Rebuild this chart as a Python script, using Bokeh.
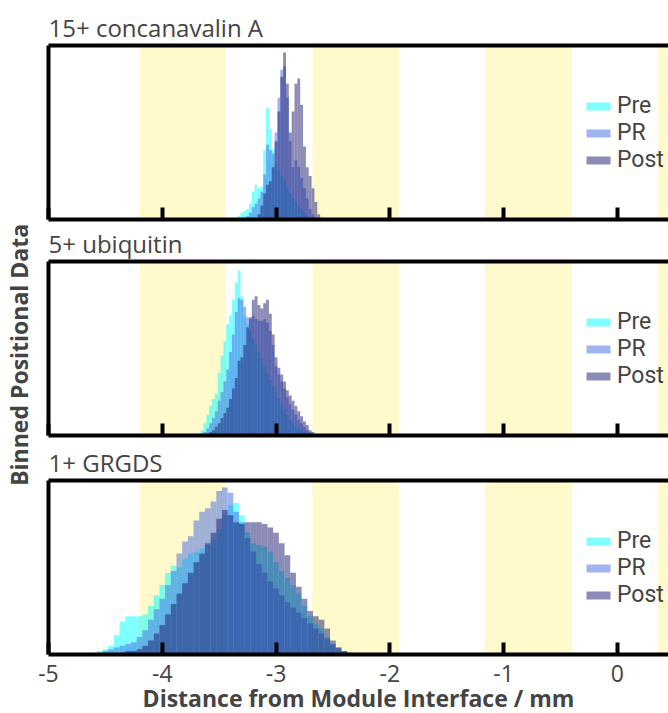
import numpy as np
from bokeh.plotting import figure
from bokeh.models import Range1d, LinearAxis, FixedTicker, Label, Legend, LegendItem
from bokeh.layouts import row, column
from bokeh.embed import file_html
from bokeh.resources import INLINE

# ---------------- data ----------------
tick_values = [-5, -4, -3, -2, -1, 0]
tick_labels = ["-5", "-4", "-3", "-2", "-1", "0"]
band_left = [-4.20, -2.68, -1.16, 0.36]
band_right = [-3.44, -1.92, -0.40, 1.12]
series_names = ["Pre", "PR", "Post"]
panel_titles = ["15+ concanavalin A", "5+ ubiquitin", "1+ GRGDS"]

# 15+ concanavalin A : bins of 0.025 mm, first bin centre -3.325
conA_first, conA_step = -3.325, 0.025
conA_pre = [0.02, 0.04, 0.05, 0.06, 0.09, 0.16, 0.20, 0.18, 0.19, 0.40,
            0.64, 0.52, 0.40, 0.32, 0.28, 0.25, 0.22, 0.18, 0.15, 0.12,
            0.10, 0.08, 0.06, 0.04, 0.02, 0.01, 0.00, 0.00, 0.00, 0.00]
conA_pr = [0.00, 0.00, 0.01, 0.02, 0.04, 0.07, 0.09, 0.12, 0.16, 0.26,
           0.43, 0.40, 0.38, 0.50, 0.70, 0.86, 0.88, 0.70, 0.45, 0.30,
           0.34, 0.30, 0.24, 0.18, 0.12, 0.06, 0.03, 0.01, 0.00, 0.00]
conA_post = [0.00, 0.00, 0.00, 0.00, 0.00, 0.00, 0.01, 0.03, 0.08, 0.15,
             0.20, 0.22, 0.30, 0.45, 0.62, 0.82, 0.96, 0.78, 0.50, 0.62,
             0.78, 0.81, 0.66, 0.42, 0.30, 0.25, 0.18, 0.10, 0.03, 0.01]

# 5+ ubiquitin : bins of 0.025 mm, first bin centre -3.675
ubq_first, ubq_step = -3.675, 0.025
ubq_pre = [0.01, 0.03, 0.07, 0.12, 0.17, 0.21, 0.24, 0.36, 0.46, 0.54,
           0.64, 0.69, 0.78, 0.88, 0.95, 0.80, 0.69, 0.64, 0.60, 0.56,
           0.52, 0.48, 0.44, 0.40, 0.36, 0.32, 0.28, 0.25, 0.21, 0.18,
           0.15, 0.12, 0.09, 0.07, 0.05, 0.04, 0.03, 0.02, 0.01, 0.00,
           0.00, 0.00]
ubq_pr = [0.00, 0.01, 0.02, 0.04, 0.07, 0.10, 0.14, 0.20, 0.25, 0.31,
          0.38, 0.48, 0.58, 0.71, 0.79, 0.78, 0.74, 0.68, 0.67, 0.69,
          0.67, 0.66, 0.66, 0.67, 0.65, 0.60, 0.52, 0.40, 0.35, 0.31,
          0.27, 0.22, 0.18, 0.15, 0.12, 0.09, 0.07, 0.05, 0.03, 0.02,
          0.01, 0.00]
ubq_post = [0.00, 0.00, 0.01, 0.01, 0.02, 0.03, 0.05, 0.07, 0.10, 0.13,
            0.16, 0.21, 0.27, 0.33, 0.43, 0.45, 0.52, 0.62, 0.68, 0.78,
            0.80, 0.75, 0.73, 0.76, 0.78, 0.70, 0.58, 0.45, 0.39, 0.35,
            0.31, 0.26, 0.23, 0.20, 0.17, 0.14, 0.11, 0.08, 0.06, 0.03,
            0.02, 0.01]

# 1+ GRGDS : bins of 0.05 mm, first bin centre -4.60
grgds_first, grgds_step = -4.60, 0.05
grgds_pre = [0.01, 0.02, 0.03, 0.05, 0.11, 0.19, 0.22, 0.22, 0.22, 0.23,
             0.28, 0.34, 0.40, 0.47, 0.51, 0.50, 0.55, 0.58, 0.59, 0.61,
             0.63, 0.66, 0.72, 0.80, 0.86, 0.87, 0.80, 0.70, 0.64, 0.63,
             0.62, 0.59, 0.53, 0.48, 0.44, 0.40, 0.35, 0.28, 0.22, 0.18,
             0.15, 0.10, 0.06, 0.03, 0.01, 0.00, 0.00]
grgds_pr = [0.00, 0.01, 0.02, 0.03, 0.04, 0.05, 0.06, 0.07, 0.10, 0.14,
            0.20, 0.26, 0.32, 0.40, 0.48, 0.58, 0.65, 0.68, 0.77, 0.82,
            0.84, 0.88, 0.94, 0.96, 0.93, 0.82, 0.76, 0.67, 0.59, 0.52,
            0.47, 0.42, 0.38, 0.34, 0.30, 0.27, 0.24, 0.21, 0.18, 0.15,
            0.12, 0.09, 0.06, 0.04, 0.02, 0.01, 0.00]
grgds_post = [0.00, 0.00, 0.00, 0.01, 0.01, 0.01, 0.02, 0.02, 0.03, 0.05,
              0.08, 0.12, 0.17, 0.23, 0.29, 0.35, 0.41, 0.47, 0.53, 0.58,
              0.64, 0.70, 0.78, 0.83, 0.80, 0.76, 0.75, 0.76, 0.76, 0.76,
              0.75, 0.73, 0.70, 0.64, 0.57, 0.47, 0.39, 0.32, 0.25, 0.22,
              0.20, 0.15, 0.08, 0.04, 0.02, 0.01, 0.00]

series_colors = ["#00FFFF", "#4169E1", "#191970"]
band_color = "#FFF9CC"
FONT = "Open Sans"
LEGEND_FONT = "Roboto"
legend_offsets = [100, 73, 46]   # screen px from frame bottom, one per legend row


def bin_centres(first, step, n):
    return np.round(first + step * np.arange(n), 4)


def hide_grids(p):
    p.xgrid.grid_line_color = None
    p.ygrid.grid_line_color = None
    p.xgrid.visible = False
    p.ygrid.visible = False


def make_panel(title, first, step, pre, pr, post, top_border, bottom_border, last):
    p = figure(frame_width=620, frame_height=174,
               x_range=Range1d(-5, 0.45), y_range=Range1d(0, 1),
               output_backend="svg", toolbar_location=None,
               x_axis_location=None, y_axis_location=None,
               min_border_left=14, min_border_right=0,
               min_border_top=top_border, min_border_bottom=bottom_border,
               title=title)
    hide_grids(p)
    p.outline_line_color = None
    p.background_fill_color = "white"
    p.border_fill_color = "white"
    p.title.text_font = FONT
    p.title.text_font_size = "24px"
    p.title.text_font_style = "normal"
    p.title.align = "left"
    p.title.offset = 0
    p.title.standoff = 4

    p.quad(left=band_left, right=band_right, bottom=0, top=1,
           fill_color=band_color, line_color=None)

    xs = bin_centres(first, step, len(pre))
    for name, vals, col, off in zip(series_names, [pre, pr, post], series_colors, legend_offsets):
        r = p.vbar(x=xs, width=step, top=vals, bottom=0,
                   fill_color=col, fill_alpha=0.5, line_color=None)
        leg = Legend(items=[LegendItem(label=name, renderers=[r])],
                     location=(535, off), glyph_width=30, glyph_height=10,
                     label_text_font=LEGEND_FONT, label_text_font_size="23px",
                     background_fill_alpha=0, border_line_color=None,
                     padding=0, margin=0, spacing=0, label_standoff=4,
                     label_height=20)
        p.add_layout(leg)

    xa = LinearAxis(ticker=FixedTicker(ticks=tick_values),
                    major_label_overrides=dict(zip(tick_values, tick_labels)))
    xa.axis_line_width = 4
    xa.major_tick_in = 12
    xa.major_tick_out = 0
    xa.major_tick_line_width = 4
    xa.minor_tick_line_color = None
    if last:
        xa.major_label_text_font = FONT
        xa.major_label_text_font_size = "23px"
        xa.major_label_standoff = 10
        xa.axis_label = "Distance from Module Interface / mm"
        xa.axis_label_text_font = FONT
        xa.axis_label_text_font_style = "bold"
        xa.axis_label_text_font_size = "23px"
        xa.axis_label_standoff = -3
    else:
        xa.major_label_text_font_size = "0px"
        xa.major_label_text_color = None
        xa.major_label_standoff = 0
    p.add_layout(xa, "below")

    for side in ["above", "left"]:
        ax = LinearAxis(ticker=FixedTicker(ticks=[]))
        ax.axis_line_width = 4
        ax.major_tick_line_color = None
        ax.minor_tick_line_color = None
        ax.major_label_text_font_size = "0px"
        ax.major_label_text_color = None
        ax.major_label_standoff = 0
        p.add_layout(ax, side)
    return p


f1 = make_panel(panel_titles[0], conA_first, conA_step, conA_pre, conA_pr, conA_post, 45, 3, False)
f2 = make_panel(panel_titles[1], ubq_first, ubq_step, ubq_pre, ubq_pr, ubq_post, 39, 3, False)
f3 = make_panel(panel_titles[2], grgds_first, grgds_step, grgds_pre, grgds_pr, grgds_post, 42, 59, True)

yl = figure(width=34, height=713, x_range=Range1d(0, 1), y_range=Range1d(0, 1),
            toolbar_location=None, output_backend="svg", min_border=0,
            x_axis_location=None, y_axis_location=None)
hide_grids(yl)
yl.outline_line_color = None
yl.add_layout(Label(x=0.55, y=0.503, text="Binned Positional Data", angle=np.pi / 2,
                    text_align="center", text_baseline="middle", text_font=FONT,
                    text_font_style="bold", text_font_size="23px"))

layout = row(yl, column(f1, f2, f3))
open("out.html", "w").write(file_html(layout, INLINE))
